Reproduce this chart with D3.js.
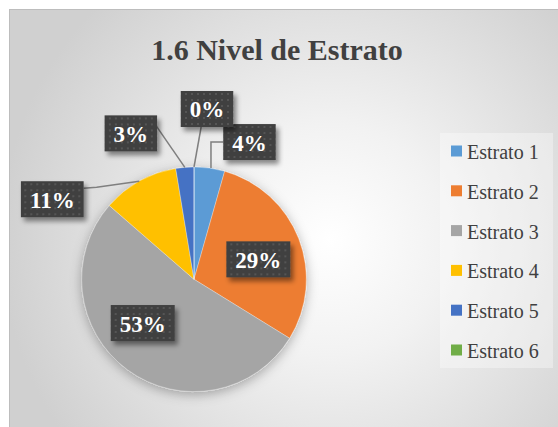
<!DOCTYPE html>
<html>
<head>
<meta charset="utf-8">
<script src="https://cdn.jsdelivr.net/npm/d3@7"></script>
</head>
<body style="margin:0">
<svg id="chart" width="558" height="427" style="display:block"></svg>
<script>
// ---- data ----
const title = "1.6 Nivel de Estrato";
const categories = ["Estrato 1", "Estrato 2", "Estrato 3", "Estrato 4", "Estrato 5", "Estrato 6"];
const values = [4.4, 29.4, 52.6, 11.0, 2.6, 0.0];
const colors = ["#5B9BD5", "#ED7D31", "#A5A5A5", "#FFC000", "#4472C4", "#70AD47"];

// ---- label layout (offsets from the slice anchor) ----
const labelLayout = [
  { inside: false, dx: 40, dy: -26, leader: "elbow" },
  { inside: true,  rf: 0.6, da: 0.07 },
  { inside: true,  rf: 0.6, da: 0.23 },
  { inside: false, dx: -87, dy: 18, leader: "elbow2" },
  { inside: false, dx: -54, dy: -34, leader: "straight" },
  { inside: false, dx: 13, dy: -58, leader: "straight" }
];

const FONT = '"Liberation Serif"';
const W = 558, H = 427;
const svg = d3.select("#chart");
const defs = svg.append("defs");

const bg = defs.append("radialGradient").attr("id", "bgGrad")
  .attr("gradientUnits", "userSpaceOnUse")
  .attr("cx", 330).attr("cy", 240).attr("r", 330);
bg.append("stop").attr("offset", "0%").attr("stop-color", "#ffffff");
bg.append("stop").attr("offset", "35%").attr("stop-color", "#f2f2f2");
bg.append("stop").attr("offset", "100%").attr("stop-color", "#d0d0d0");

const pat = defs.append("pattern").attr("id", "dots")
  .attr("patternUnits", "userSpaceOnUse").attr("width", 6).attr("height", 6);
pat.append("rect").attr("width", 6).attr("height", 6).attr("fill", "#404040");
pat.append("rect").attr("x", 2).attr("y", 2).attr("width", 2).attr("height", 2).attr("fill", "#555555");

const sh = defs.append("filter").attr("id", "boxShadow")
  .attr("x", "-30%").attr("y", "-30%").attr("width", "170%").attr("height", "170%");
sh.append("feDropShadow").attr("dx", 3).attr("dy", 4).attr("stdDeviation", 2.5)
  .attr("flood-color", "#000").attr("flood-opacity", 0.45);
const psh = defs.append("filter").attr("id", "pieShadow")
  .attr("x", "-20%").attr("y", "-20%").attr("width", "140%").attr("height", "140%");
psh.append("feDropShadow").attr("dx", 0).attr("dy", 3).attr("stdDeviation", 6)
  .attr("flood-color", "#000").attr("flood-opacity", 0.3);

svg.append("rect").attr("x", 9.5).attr("y", 9.5).attr("width", W - 9).attr("height", H - 9)
  .attr("fill", "url(#bgGrad)").attr("stroke", "#bdbdbd").attr("stroke-width", 1);

// title
svg.append("text").attr("x", 277).attr("y", 60)
  .attr("text-anchor", "middle")
  .style("font-family", FONT)
  .style("font-weight", "bold").style("font-size", "30px")
  .attr("fill", "#404040").text(title);

// legend
const legend = svg.append("g");
legend.append("rect").attr("x", 440).attr("y", 133).attr("width", 113).attr("height", 235)
  .attr("fill", "#ffffff").attr("fill-opacity", 0.35);
const ly = d3.scalePoint().domain(categories).range([151, 350]);
const li = legend.selectAll("g.item").data(categories).join("g").attr("class", "item");
li.append("rect").attr("x", 451).attr("y", d => ly(d) - 5.5).attr("width", 11).attr("height", 11)
  .attr("fill", (d, i) => colors[i]);
li.append("text").attr("x", 467).attr("y", d => ly(d) + 8)
  .style("font-family", FONT)
  .style("font-size", "20px").attr("fill", "#404040").text(d => d);

// pie
const cx = 194, cy = 279.3, R = 112.3;
const pie = d3.pie().sort(null).value(d => d)(values);
const arc = d3.arc().innerRadius(0).outerRadius(R);
const g = svg.append("g").attr("transform", `translate(${cx},${cy})`);
g.append("g").attr("filter", "url(#pieShadow)")
  .selectAll("path").data(pie).join("path")
  .attr("d", arc).attr("fill", (d, i) => colors[i])
  .attr("stroke", "#ffffff").attr("stroke-width", 0.5).attr("stroke-opacity", 0.6);

const total = d3.sum(values);
const fmt = v => Math.round(v / total * 100) + "%";
const polar = (a, r) => [r * Math.sin(a), -r * Math.cos(a)];

const leaders = g.append("g");
const labels = g.append("g");
pie.forEach((p, i) => {
  const L = labelLayout[i];
  const mid = (p.startAngle + p.endAngle) / 2;
  let lx, ly2;
  const anchor = polar(mid, R);
  if (L.inside) {
    [lx, ly2] = polar(mid + L.da, R * L.rf);
  } else {
    lx = anchor[0] + L.dx; ly2 = anchor[1] + L.dy;
  }
  const lg = labels.append("g").attr("transform", `translate(${lx},${ly2})`);
  const t = lg.append("text").attr("text-anchor", "middle").attr("y", 8.5)
    .style("font-family", FONT)
    .style("font-weight", "bold").style("font-size", "23px")
    .attr("fill", "#ffffff").text(fmt(values[i]));
  const tw = t.node().getComputedTextLength();
  const bw = tw + 18, bh = 36;
  lg.insert("rect", "text").attr("x", -bw / 2).attr("y", -bh / 2)
    .attr("width", bw).attr("height", bh)
    .attr("fill", "url(#dots)").attr("filter", "url(#boxShadow)");
  if (!L.inside) {
    let pts;
    if (L.leader === "elbow") {
      const ex = lx - bw / 2;
      pts = [[ex, ly2], [anchor[0] + 1.5, ly2], [anchor[0] + 1.5, anchor[1]]];
    } else if (L.leader === "elbow2") {
      const ex = lx + bw / 2;
      pts = [[ex, ly2 - 11], [ex + 13, ly2 - 12], anchor];
    } else {
      const bx = lx + (anchor[0] - lx) * 0.45;
      pts = [[Math.max(lx - bw / 2 + 4, Math.min(lx + bw / 2 - 4, bx + (L.dx < 0 ? bw * 0.55 : 0))), ly2 + (L.dx < 0 ? -12 : bh / 2)], anchor];
    }
    leaders.append("path").attr("d", d3.line()(pts))
      .attr("fill", "none").attr("stroke", "#7f7f7f").attr("stroke-width", 1.5);
  }
});
</script>
</body>
</html>
